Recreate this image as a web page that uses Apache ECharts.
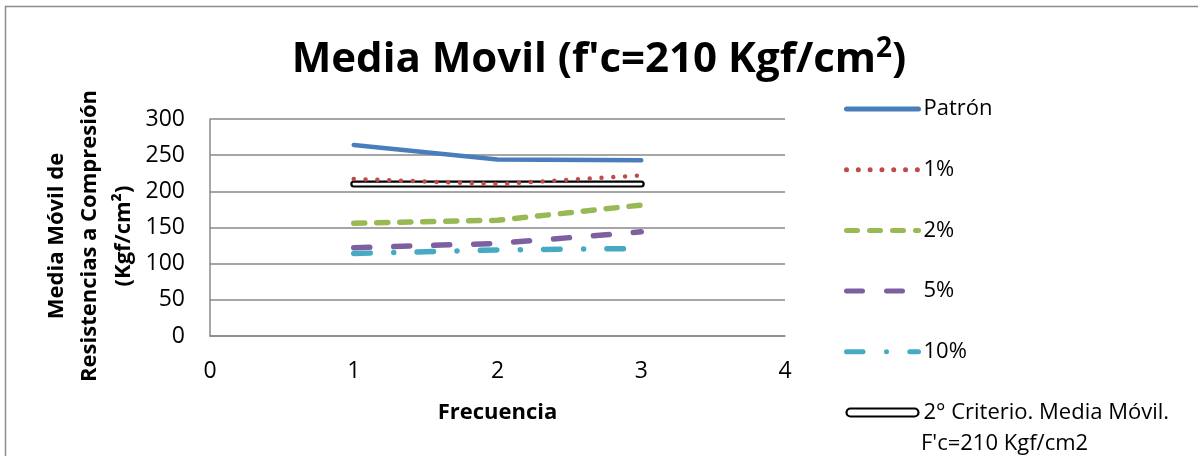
<!DOCTYPE html>
<html>
<head>
<meta charset="utf-8">
<script src="https://cdn.jsdelivr.net/npm/echarts@6/dist/echarts.min.js"></script>
<style>
html,body{margin:0;padding:0;background:#fff;}
#chart{width:1198px;height:456px;}
</style>
</head>
<body>
<div id="chart"></div>
<script>
// ---- data ----
var frecuencia = [1, 2, 3];
var xTicks = [0, 1, 2, 3, 4];
var yTicks = [0, 50, 100, 150, 200, 250, 300];
var patron = [264, 244, 243];
var p1 = [217, 210, 222];
var p2 = [156, 160, 181];
var p5 = [122, 128, 144];
var p10 = [114, 119, 121];
var criterio = [210, 210, 210];
var seriesNames = ['Patrón', '1%', '2%', '5%', '10%', '2° Criterio. Media Móvil.'];
var criterioLine2 = "F'c=210 Kgf/cm2";

function pairs(ys) { return frecuencia.map(function (x, i) { return [x, ys[i]]; }); }

var FONT = '"Open Sans", "Liberation Sans", sans-serif';
var chart = echarts.init(document.getElementById('chart'), null, {renderer: 'canvas'});

var option = {
  backgroundColor: '#fff',
  animation: false,
  title: {
    text: "Media Movil (f'c=210 Kgf/cm{sup|2})",
    left: 'center',
    top: 35,
    padding: [0, 0, 0, 14],
    textStyle: {
      fontFamily: FONT, fontWeight: 'bold', fontSize: 42, color: '#000', lineHeight: 50,
      rich: { sup: { fontFamily: FONT, fontWeight: 'bold', fontSize: 28, color: '#000', verticalAlign: 'top', lineHeight: 28 } }
    }
  },
  grid: { left: 210, right: 413, top: 119, bottom: 120, containLabel: false },
  xAxis: {
    type: 'value', min: xTicks[0], max: xTicks[xTicks.length - 1], interval: 1,
    name: 'Frecuencia', nameLocation: 'middle', nameGap: 64,
    nameTextStyle: { fontFamily: FONT, fontWeight: 'bold', fontSize: 22, color: '#000', lineHeight: 26 },
    axisLine: { show: true, lineStyle: { color: '#888', width: 1.5 } },
    axisTick: { show: false },
    splitLine: { show: false },
    axisLabel: { fontFamily: FONT, fontSize: 23, color: '#000', margin: 22, lineHeight: 26 }
  },
  yAxis: {
    type: 'value', min: yTicks[0], max: yTicks[yTicks.length - 1], interval: 50,
    axisLine: { show: true, lineStyle: { color: '#888', width: 1.5 } },
    axisTick: { show: false },
    splitLine: { show: true, lineStyle: { color: '#888', width: 1.5 } },
    axisLabel: { fontFamily: FONT, fontSize: 23, color: '#000', margin: 25 }
  },
  legend: {
    orient: 'vertical', left: 844, top: 97, padding: 0,
    itemWidth: 72, itemHeight: 8, itemGap: 36.7,
    selectedMode: false,
    itemStyle: { opacity: 0 },
    lineStyle: { width: 5, cap: 'round' },
    textStyle: { fontFamily: FONT, fontSize: 22, color: '#000', lineHeight: 24 },
    data: [
      { name: seriesNames[0] },
      { name: seriesNames[1] },
      { name: seriesNames[2] },
      { name: seriesNames[3] },
      { name: seriesNames[4] },
      { name: seriesNames[5], icon: 'path://M4,0 H68 A4,4 0 0 1 68,8 H4 A4,4 0 0 1 4,0 Z',
        itemStyle: { color: '#fff', borderColor: '#000', borderWidth: 2.2, opacity: 1 } }
    ]
  },
  graphic: [
    { type: 'rect', silent: true, z: -10,
      shape: { x: 5.5, y: 6.5, width: 1200, height: 460 },
      style: { fill: 'none', stroke: '#8c8c8c', lineWidth: 1.5 } },
    { type: 'text', x: 90, y: 236, rotation: Math.PI / 2, silent: true,
      style: { text: 'Media Móvil de\nResistencias a Compresión\n(Kgf/cm²)',
        font: 'bold 22px ' + FONT, fill: '#000', align: 'center', verticalAlign: 'middle', lineHeight: 33.5 } },
    { type: 'text', x: 921, y: 444, silent: true,
      style: { text: criterioLine2, font: '22px ' + FONT, fill: '#000', align: 'left', verticalAlign: 'middle' } }
  ],
  series: [
    { name: seriesNames[5], type: 'line', data: pairs(criterio), symbol: 'none', z: 2,
      lineStyle: { color: '#000', width: 7, cap: 'round' }, itemStyle: { color: '#000' } },
    { name: 'criterio-inner', type: 'line', data: pairs(criterio), symbol: 'none', z: 2, silent: true,
      lineStyle: { color: '#fff', width: 2.6, cap: 'round' }, itemStyle: { color: '#fff' } },
    { name: seriesNames[0], type: 'line', data: pairs(patron), symbol: 'none', z: 3,
      lineStyle: { color: '#4A7EBB', width: 4.5, cap: 'round' }, itemStyle: { color: '#4A7EBB' } },
    { name: seriesNames[1], type: 'line', data: pairs(p1), symbol: 'none', z: 3,
      lineStyle: { color: '#BE4B48', width: 4.5, cap: 'round', type: [0.01, 11.8] }, itemStyle: { color: '#BE4B48' } },
    { name: seriesNames[2], type: 'line', data: pairs(p2), symbol: 'none', z: 3,
      lineStyle: { color: '#98B954', width: 5.5, cap: 'round', type: [11, 12] }, itemStyle: { color: '#98B954' } },
    { name: seriesNames[3], type: 'line', data: pairs(p5), symbol: 'none', z: 3,
      lineStyle: { color: '#7D60A0', width: 5.5, cap: 'round', type: [16, 24] }, itemStyle: { color: '#7D60A0' } },
    { name: seriesNames[4], type: 'line', data: pairs(p10), symbol: 'none', z: 3,
      lineStyle: { color: '#46AAC5', width: 5.5, cap: 'round', type: [16.5, 23.5, 0.01, 23.3] }, itemStyle: { color: '#46AAC5' } }
  ]
};
chart.setOption(option);
</script>
</body>
</html>
